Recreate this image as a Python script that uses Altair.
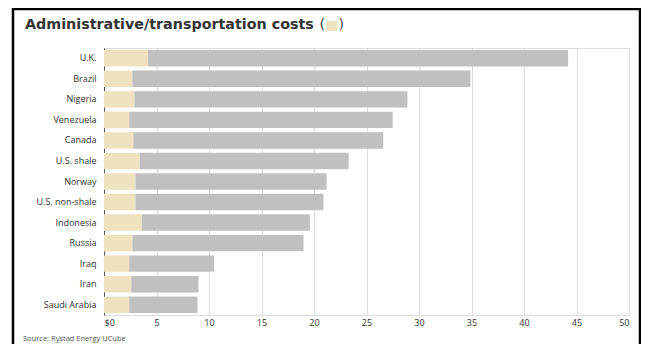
import altair as alt
import pandas as pd

countries = ["U.K.", "Brazil", "Nigeria", "Venezuela", "Canada", "U.S. shale", "Norway",
             "U.S. non-shale", "Indonesia", "Russia", "Iraq", "Iran", "Saudi Arabia"]
admin_costs = [4.2, 2.7, 2.9, 2.4, 2.8, 3.4, 3.0, 3.0, 3.6, 2.7, 2.4, 2.6, 2.4]
total_costs = [44.2, 34.9, 28.9, 27.5, 26.6, 23.3, 21.2, 20.9, 19.6, 19.0, 10.5, 9.0, 8.9]
x_ticks = [0, 5, 10, 15, 20, 25, 30, 35, 40, 45, 50]

title_text = "Administrative/transportation costs"
source_text = "Source: Rystad Energy UCube"

CREAM = "#efe3bf"
GRAY = "#c0c0c0"
FONT = "Open Sans"
TFONT = "DejaVu Sans"

rows = []
for c, a, t in zip(countries, admin_costs, total_costs):
    rows.append({"country": c, "segment": "Administrative/transportation", "start": 0, "end": a})
    rows.append({"country": c, "segment": "Other", "start": a, "end": t})
df = pd.DataFrame(rows)

bars = alt.Chart(df).mark_bar().encode(
    y=alt.Y("country:N", sort=countries, title=None,
            scale=alt.Scale(paddingInner=0.2, paddingOuter=0.1),
            axis=alt.Axis(domain=True, domainColor="#555555", domainWidth=1, ticks=False,
                          labelPadding=8, labelFontSize=9, labelColor="#333333",
                          labelFont=FONT, grid=False)),
    x=alt.X("start:Q", title=None, scale=alt.Scale(domain=[0, 50], nice=False),
            axis=alt.Axis(values=x_ticks, domain=False, ticks=False, grid=True,
                          gridColor="#dddddd", gridWidth=1, labelPadding=3,
                          labelFontSize=9, labelColor="#333333", labelFont=FONT,
                          labelExpr="datum.value == 0 ? '$0' : datum.label")),
    x2="end:Q",
    color=alt.Color("segment:N", scale=alt.Scale(domain=["Administrative/transportation", "Other"],
                                                 range=[CREAM, GRAY]), legend=None),
)

one = pd.DataFrame({"k": [0]})

title = alt.Chart(one).mark_text(align="left", baseline="alphabetic", fontSize=14.3,
                                 fontWeight="bold", color="#333333", font=TFONT,
                                 text=title_text).encode(
    x=alt.value(-79), y=alt.value(-19)
)
paren_open = alt.Chart(one).mark_text(align="left", baseline="alphabetic", fontSize=14.3,
                                      color="#444444", font=TFONT, text="(").encode(
    x=alt.value(215.5), y=alt.value(-19)
)
paren_close = alt.Chart(one).mark_text(align="left", baseline="alphabetic", fontSize=14.3,
                                       color="#444444", font=TFONT, text=")").encode(
    x=alt.value(234.5), y=alt.value(-19)
)

legend_square = alt.Chart(one).mark_rect(color=CREAM).encode(
    x=alt.value(223), x2=alt.value(233), y=alt.value(-27), y2=alt.value(-17)
)

source = alt.Chart(one).mark_text(align="left", baseline="middle", fontSize=7.5,
                                  color="#555555", font=FONT, text=source_text).encode(
    x=alt.value(-81), y=alt.value(291)
)

frame = alt.Chart(one).mark_rect(fill=None, stroke="#000000", strokeWidth=2.5).encode(
    x=alt.value(-91), x2=alt.value(536), y=alt.value(-39), y2=alt.value(400)
)

chart = alt.layer(bars, title, paren_open, legend_square, paren_close, source, frame).properties(
    width=525, height=267,
    autosize=alt.AutoSizeParams(type="none"),
    padding={"left": 96, "top": 40, "right": 12, "bottom": 29},
).configure_view(stroke=None).configure(background="white")

chart.save("out.html", embed_options={"renderer": "svg", "actions": False})
